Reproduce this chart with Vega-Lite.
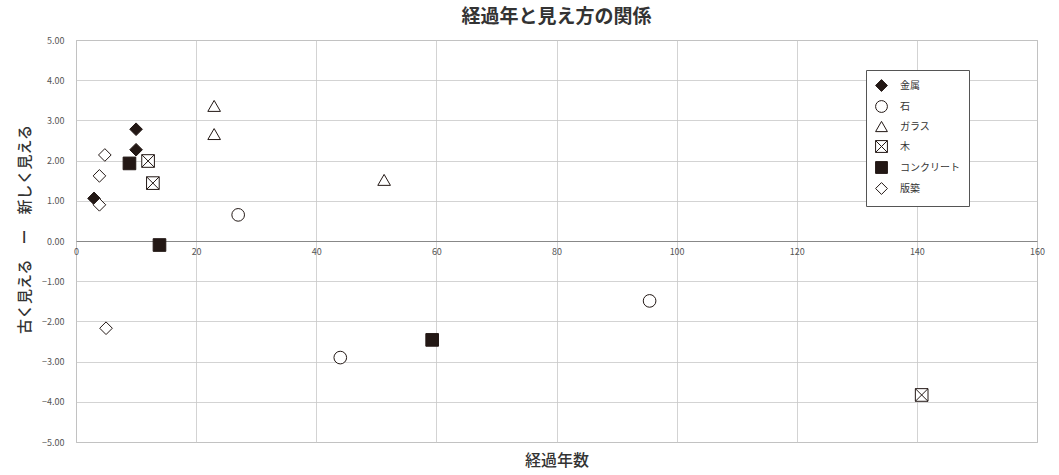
{
  "$schema": "https://vega.github.io/schema/vega-lite/v6.json",
  "width": 961,
  "height": 402,
  "autosize": "none",
  "padding": {"left": 76, "top": 40, "right": 22, "bottom": 33},
  "background": "white",
  "title": {
    "text": "経過年と見え方の関係",
    "font": "Noto Sans CJK JP",
    "fontSize": 19,
    "fontWeight": "bold",
    "color": "#333333",
    "anchor": "middle",
    "offset": 9
  },
  "config": {
    "view": {"stroke": "#aaaaaa", "strokeWidth": 1},
    "font": "Noto Sans CJK JP"
  },
  "data": {
    "values": [
      {"material": "金属", "years": 10, "score": 2.78},
      {"material": "金属", "years": 10, "score": 2.27},
      {"material": "金属", "years": 3, "score": 1.06},
      {"material": "石", "years": 27, "score": 0.65},
      {"material": "石", "years": 44, "score": -2.9},
      {"material": "石", "years": 95.5, "score": -1.49},
      {"material": "ガラス", "years": 23, "score": 3.36},
      {"material": "ガラス", "years": 23, "score": 2.66},
      {"material": "ガラス", "years": 51.3, "score": 1.52},
      {"material": "木", "years": 12, "score": 1.99},
      {"material": "木", "years": 12.8, "score": 1.44},
      {"material": "木", "years": 140.8, "score": -3.83},
      {"material": "コンクリート", "years": 8.9, "score": 1.93},
      {"material": "コンクリート", "years": 13.9, "score": -0.1},
      {"material": "コンクリート", "years": 59.3, "score": -2.46},
      {"material": "版築", "years": 4.8, "score": 2.14},
      {"material": "版築", "years": 3.9, "score": 1.62},
      {"material": "版築", "years": 3.9, "score": 0.9},
      {"material": "版築", "years": 5, "score": -2.17}
    ]
  },
  "mark": {"type": "point", "size": 160, "strokeWidth": 1, "opacity": 1},
  "encoding": {
    "x": {
      "field": "years",
      "type": "quantitative",
      "scale": {"domain": [0, 160], "nice": false, "zero": false},
      "axis": {
        "title": "経過年数",
        "titleFont": "Noto Sans CJK JP",
        "titleFontSize": 16,
        "titleFontWeight": 500,
        "titleColor": "#333333",
        "titlePadding": 10,
        "values": [0, 20, 40, 60, 80, 100, 120, 140, 160],
        "labelFontSize": 9,
        "labelColor": "#555555",
        "labelPadding": -195,
        "labelFlush": false,
        "ticks": false,
        "domain": false,
        "grid": true,
        "gridColor": "#c8c8c8",
        "gridWidth": 0.8
      }
    },
    "y": {
      "field": "score",
      "type": "quantitative",
      "scale": {"domain": [-5, 5], "nice": false},
      "axis": {
        "title": "古く見える　ー　新しく見える",
        "titleFont": "Noto Sans CJK JP",
        "titleFontSize": 15,
        "titleFontWeight": 500,
        "titleColor": "#333333",
        "titleBaseline": "middle",
        "titleAngle": -90,
        "titleX": -52,
        "titleY": 189,
        "values": [-5, -4, -3, -2, -1, 0, 1, 2, 3, 4, 5],
        "format": ".2f",
        "labelFontSize": 9,
        "labelColor": "#555555",
        "labelPadding": 12,
        "ticks": false,
        "domain": false,
        "grid": true,
        "gridColor": {"condition": {"test": "datum.value === 0", "value": "#888888"}, "value": "#c8c8c8"},
        "gridWidth": {"condition": {"test": "datum.value === 0", "value": 1.2}, "value": 0.8}
      }
    },
    "shape": {
      "field": "material",
      "type": "nominal",
      "scale": {
        "domain": ["金属", "石", "ガラス", "木", "コンクリート", "版築"],
        "range": ["diamond", "circle", "triangle-up", "M-1,-1H1V1H-1ZM-1,-1L1,1M-1,1L1,-1", "square", "diamond"]
      },
      "legend": {
        "title": null,
        "orient": "none",
        "legendX": 790,
        "legendY": 30,
        "padding": 9,
        "strokeColor": "#555555",
        "fillColor": "white",
        "labelFont": "Noto Sans CJK JP",
        "labelFontSize": 10,
        "labelColor": "#333333",
        "symbolSize": 140,
        "symbolStrokeWidth": 1,
        "rowPadding": 4,
        "labelOffset": 12
      }
    },
    "fill": {
      "field": "material",
      "type": "nominal",
      "scale": {
        "domain": ["金属", "石", "ガラス", "木", "コンクリート", "版築"],
        "range": ["#231815", "#ffffff", "#ffffff", "#ffffff", "#231815", "#ffffff"]
      },
      "legend": {
        "title": null,
        "orient": "none",
        "legendX": 790,
        "legendY": 30,
        "padding": 9,
        "strokeColor": "#555555",
        "fillColor": "white",
        "labelFont": "Noto Sans CJK JP",
        "labelFontSize": 10,
        "labelColor": "#333333",
        "symbolSize": 140,
        "symbolStrokeWidth": 1,
        "rowPadding": 4,
        "labelOffset": 12
      }
    },
    "stroke": {
      "field": "material",
      "type": "nominal",
      "scale": {
        "domain": ["金属", "石", "ガラス", "木", "コンクリート", "版築"],
        "range": ["#231815", "#231815", "#231815", "#231815", "#231815", "#231815"]
      },
      "legend": {
        "title": null,
        "orient": "none",
        "legendX": 790,
        "legendY": 30,
        "padding": 9,
        "strokeColor": "#555555",
        "fillColor": "white",
        "labelFont": "Noto Sans CJK JP",
        "labelFontSize": 10,
        "labelColor": "#333333",
        "symbolSize": 140,
        "symbolStrokeWidth": 1,
        "rowPadding": 4,
        "labelOffset": 12
      }
    }
  }
}
